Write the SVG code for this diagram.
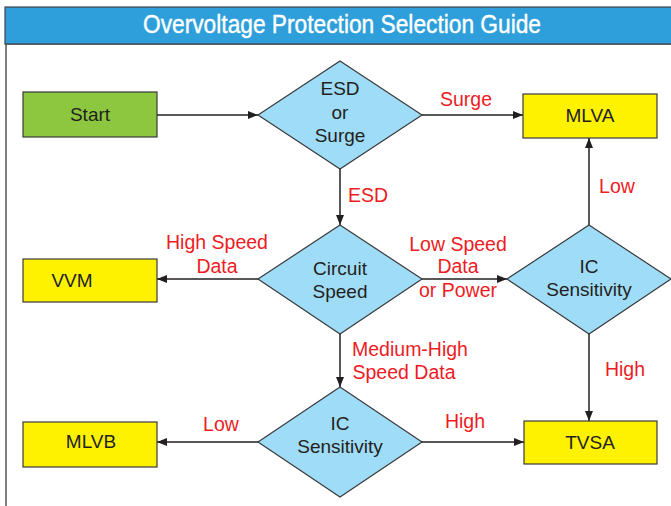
<svg xmlns="http://www.w3.org/2000/svg" width="671" height="506" viewBox="0 0 671 506">
<defs>
<marker id="ah" viewBox="0 0 10 8" refX="10" refY="4" markerWidth="10" markerHeight="8" markerUnits="userSpaceOnUse" orient="auto">
<path d="M0,0 L10,4 L0,8 z" fill="#231f20"/>
</marker>
<style>
.box{stroke:#3a3a3a;stroke-width:1.2}
.yel{fill:#fff200}
.grn{fill:#8dc63f}
.dia{fill:#9fdcf7;stroke:#3a3a3a;stroke-width:1.2}
.t{font-family:"Liberation Sans",Arial,sans-serif;font-size:19px;fill:#231f20;text-anchor:middle}
.r{font-family:"Liberation Sans",Arial,sans-serif;font-size:19.5px;fill:#ed1c24;text-anchor:middle}
.c{fill:none;stroke:#231f20;stroke-width:1.5;marker-end:url(#ah)}
</style>
</defs>
<rect x="0" y="0" width="671" height="506" fill="#fff"/>
<rect x="6" y="44" width="700" height="500" fill="#fff" stroke="#555" stroke-width="1.5"/>
<rect x="5" y="7" width="700" height="37" fill="#2e9fda" stroke="#444" stroke-width="1.2"/>
<text x="342" y="33" font-family="Liberation Sans Narrow,Liberation Sans,Arial,sans-serif" font-size="25.5" fill="#fff" stroke="#fff" stroke-width="0.4" text-anchor="middle" textLength="398" lengthAdjust="spacingAndGlyphs">Overvoltage Protection Selection Guide</text>

<g id="connectors">
<path class="c" d="M157,115 H258"/>
<path class="c" d="M421,115 H523"/>
<path class="c" d="M340,169 V225"/>
<path class="c" d="M258,279 H157"/>
<path class="c" d="M421,279 H507"/>
<path class="c" d="M589,225 V138"/>
<path class="c" d="M589,334 V421"/>
<path class="c" d="M340,334 V387"/>
<path class="c" d="M258,442 H157"/>
<path class="c" d="M421,442 H524"/>
<text class="r" x="466" y="106">Surge</text>
<text class="r" x="368" y="202">ESD</text>
<text class="r" x="217" y="249">High Speed</text>
<text class="r" x="217" y="273">Data</text>
<text class="r" x="458" y="251">Low Speed</text>
<text class="r" x="458" y="273">Data</text>
<text class="r" x="458" y="297">or Power</text>
<text class="r" x="617" y="193">Low</text>
<text class="r" x="625" y="376">High</text>
<text class="r" x="410" y="356">Medium-High</text>
<text class="r" x="404" y="379">Speed Data</text>
<text class="r" x="221" y="431">Low</text>
<text class="r" x="465" y="428">High</text>
</g>

<g id="start">
<rect class="box grn" x="23" y="92" width="134" height="45"/>
<text class="t" x="90" y="121">Start</text>
</g>
<g id="esd-or-surge">
<polygon class="dia" points="340,61 422,115 340,169 258,115"/>
<text class="t" x="340" y="95">ESD</text>
<text class="t" x="340" y="119">or</text>
<text class="t" x="340" y="142">Surge</text>
</g>
<g id="mlva">
<rect class="box yel" x="523" y="94" width="134" height="44"/>
<text class="t" x="590" y="122">MLVA</text>
</g>
<g id="circuit-speed">
<polygon class="dia" points="340,225 422,279 340,334 258,279"/>
<text class="t" x="340" y="275">Circuit</text>
<text class="t" x="340" y="298">Speed</text>
</g>
<g id="vvm">
<rect class="box yel" x="23" y="259" width="134" height="43"/>
<text class="t" x="72" y="287">VVM</text>
</g>
<g id="ic-sensitivity-right">
<polygon class="dia" points="589,225 671,279 589,334 507,279"/>
<text class="t" x="589" y="273">IC</text>
<text class="t" x="589" y="296">Sensitivity</text>
</g>
<g id="ic-sensitivity-bottom">
<polygon class="dia" points="340,387 422,442 340,497 258,442"/>
<text class="t" x="340" y="430">IC</text>
<text class="t" x="340" y="453">Sensitivity</text>
</g>
<g id="mlvb">
<rect class="box yel" x="23" y="422" width="134" height="45"/>
<text class="t" x="91" y="448">MLVB</text>
</g>
<g id="tvsa">
<rect class="box yel" x="524" y="421" width="133" height="43"/>
<text class="t" x="590" y="449">TVSA</text>
</g>
</svg>
